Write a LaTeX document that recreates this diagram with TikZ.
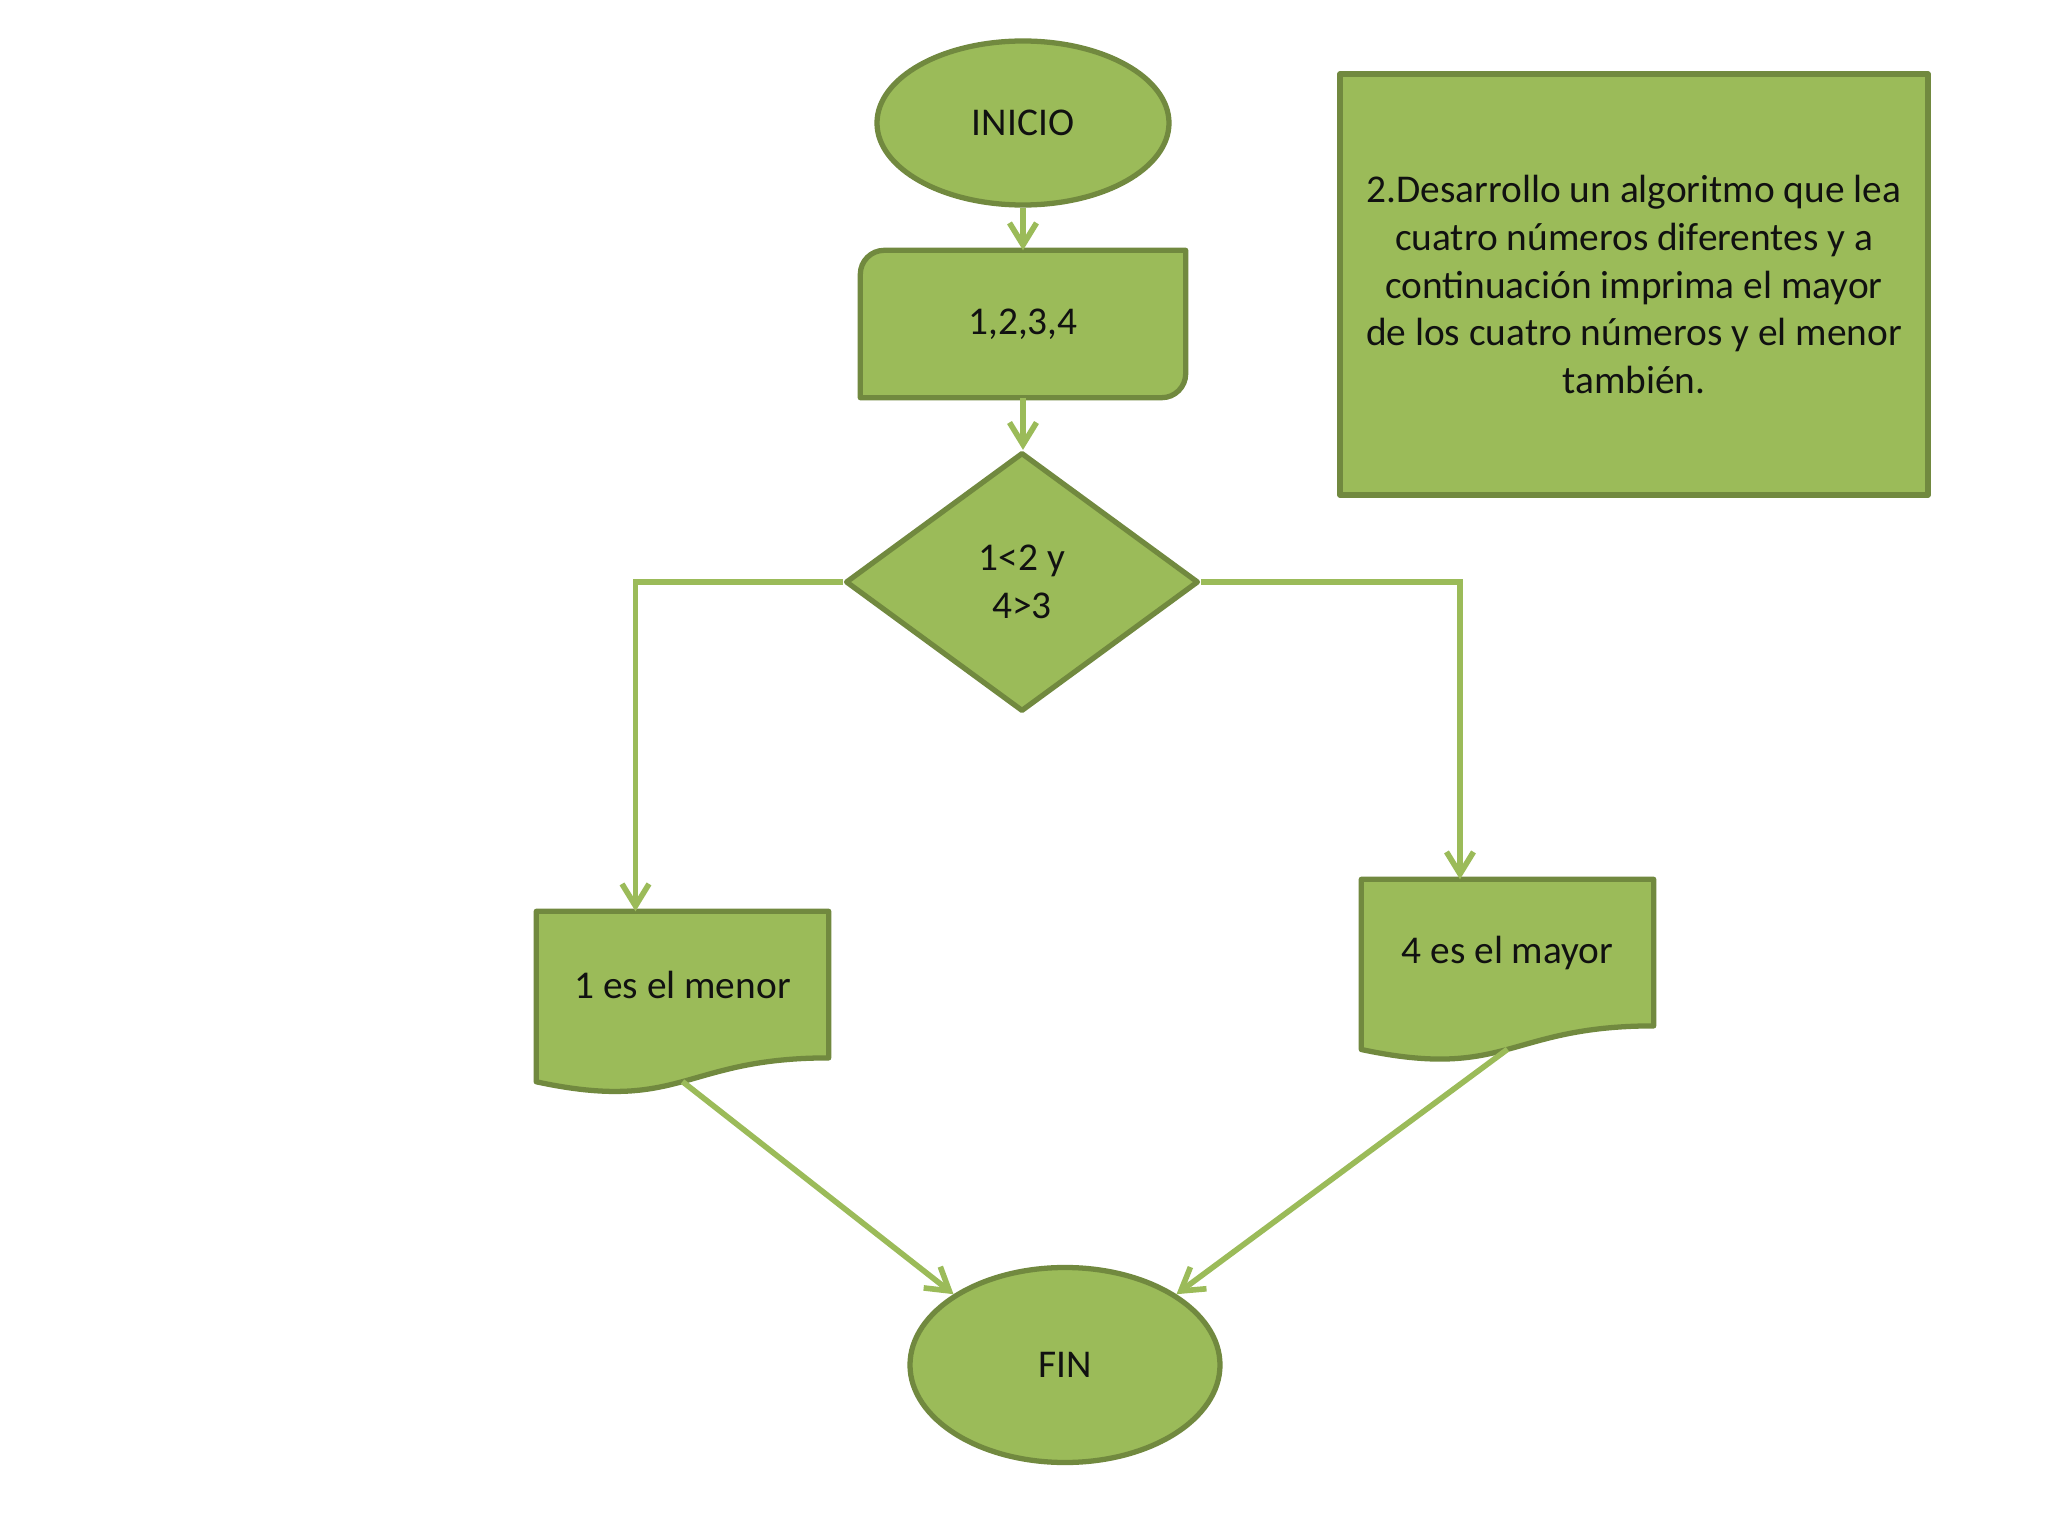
\documentclass[tikz,border=0pt]{standalone}
\usepackage{fontspec}
\setmainfont{Carlito}
\usetikzlibrary{arrows.meta,shapes.geometric,backgrounds}
\definecolor{flowfill}{HTML}{9BBB59}
\definecolor{flowedge}{HTML}{71893F}
\definecolor{flowink}{HTML}{111111}

\begin{document}
\begin{tikzpicture}[
  x=1cm,
  y=1cm,
  every node/.style={font=\fontsize{11.2}{13.6}\selectfont, flowink, inner sep=0pt},
  forma/.style={fill=flowfill, draw=flowedge, line width=1.5pt, line join=round},
  terminal/.style={forma, ellipse, minimum width=2.92cm, minimum height=1.64cm},
  datos/.style={minimum width=3.24cm, minimum height=1.46cm},
  decision/.style={forma, diamond, minimum width=3.53cm, minimum height=2.59cm, align=center},
  documento/.style={minimum width=2.91cm, minimum height=1.452cm},
  nota/.style={forma, rectangle, minimum width=5.88cm, minimum height=4.21cm, align=center},
  flecha/.style={flowfill, line width=1.6pt, -{Straight Barb[length=0.22cm, width=0.27cm]}}
]
  \useasboundingbox (0,0) rectangle (20.48,-15.36);

  % ---- the flow, top to bottom -----------------------------------------
  \node[terminal] (inicio) at (10.23,-1.23) {INICIO};
  \node[datos] (numeros) at (10.23,-3.24) {1,2,3,4};
  \node[decision] (cond) at (10.22,-5.82) {1<2 y\\4>3};
  \node[documento] (menor) at (6.825,-9.846) {1 es el menor};
  \node[documento] (mayor) at (15.075,-9.526) {4 es el mayor};
  \node[terminal, minimum width=3.10cm, minimum height=1.95cm] (fin) at (10.65,-13.65) {FIN};

  % ---- the statement of the exercise -----------------------------------
  \node[nota] (enunciado) at (16.34,-2.845)
    {2.Desarrollo un algoritmo que lea\\cuatro números diferentes y a\\
     continuación imprima el mayor\\de los cuatro números y el menor\\también.};

  % ---- outlines of the data box and the two documents ------------------
  % Document bottoms follow the usual wave: the right end sits at 0.802 of
  % the height, the left end at 0.934, the lower control point at 1.108.
  \begin{scope}[on background layer]
    \filldraw[forma] (numeros.south west) -- ([yshift=-0.24cm]numeros.north west)
      arc[start angle=180, end angle=90, radius=0.24cm] -- (numeros.north east)
      -- ([yshift=0.24cm]numeros.south east)
      arc[start angle=0, end angle=-90, radius=0.24cm] -- cycle;
    \filldraw[forma] (menor.north west) -- (menor.north east) -- (menor.south east)
      .. controls (menor.south) and ([yshift=-0.553cm]menor.south)
      .. ([yshift=-0.239cm]menor.south west) -- cycle;
    \filldraw[forma] (mayor.north west) -- (mayor.north east) -- (mayor.south east)
      .. controls (mayor.south) and ([yshift=-0.547cm]mayor.south)
      .. ([yshift=-0.236cm]mayor.south west) -- cycle;
  \end{scope}
  \coordinate (menorpie) at ([yshift=-0.237cm]menor.south);
  \coordinate (mayorpie) at ([yshift=-0.234cm]mayor.south);

  % ---- connectors -------------------------------------------------------
  \draw[flecha] (inicio.south) -- (numeros.north);
  \draw[flecha] (numeros.south) -- (numeros.south |- cond.north);
  \draw[flecha] (cond.west) -| ([xshift=-0.47cm]menor.north);
  \draw[flecha] (cond.east) -| ([xshift=-0.475cm]mayor.north);
  \draw[flecha] (menorpie) -- (fin.north west);
  \draw[flecha] (mayorpie) -- (fin.north east);
\end{tikzpicture}
\end{document}
